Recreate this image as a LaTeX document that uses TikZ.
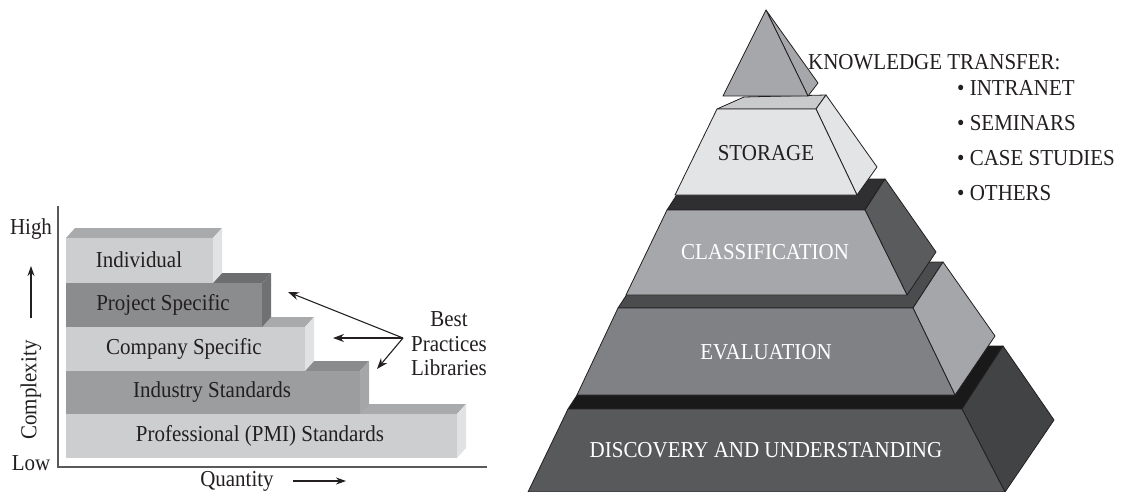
\documentclass[tikz,border=0pt]{standalone}
\usepackage{fontspec}
\setmainfont{Liberation Serif}[FakeStretch=0.92]
\usetikzlibrary{arrows.meta}
\definecolor{ink}{HTML}{231F20}
\definecolor{axisgray}{HTML}{5A5A5C}
\definecolor{lfront}{HTML}{CDCECF}
\definecolor{ltop}{HTML}{A9AAAC}
\definecolor{lside}{HTML}{E1E2E3}
\definecolor{dfront}{HTML}{8B8C8E}
\definecolor{dtop}{HTML}{6D6E70}
\definecolor{dside}{HTML}{707173}
\definecolor{mfront}{HTML}{9C9D9F}
\definecolor{mtop}{HTML}{8A8B8D}
\definecolor{mside}{HTML}{A5A6A8}
\newcommand\barblock[6]{%
  \fill[#5] (66,#2) -- (75,#2-10) -- (#1+9,#2-10) -- (#1,#2) -- cycle;
  \fill[#6] (#1,#2) -- (#1+9,#2-10) -- (#1+9,#3-10) -- (#1,#3) -- cycle;
  \fill[#4] (66,#2) rectangle (#1,#3);
}
\begin{document}
\begin{tikzpicture}[x=1pt,y=-1pt,
  lbl/.style={inner sep=0pt, font=\fontsize{22.8}{27}\selectfont, text=ink},
  wlbl/.style={inner sep=0pt, font=\fontsize{22.8}{27}\selectfont, text=white},
  face/.style={draw=ink, line width=0.8pt, line join=round},
  arr/.style={draw=ink, line width=1.1pt, -{Stealth[length=11pt,width=8pt]}},
  axisline/.style={draw=axisgray, line width=2pt}]
\useasboundingbox (0,0) rectangle (1127,492);

% ---------------- left chart ----------------
\barblock{457}{414}{458}{lfront}{ltop}{lside}
\barblock{360}{371}{414}{mfront}{mtop}{mside}
\barblock{305}{327}{371}{lfront}{ltop}{lside}
\barblock{262}{283}{327}{dfront}{dtop}{dside}
\barblock{213}{238}{283}{lfront}{ltop}{lside}

\coordinate (ytop) at (58,206);
\coordinate (orig) at (58,467);
\coordinate (xend) at (487,467);
\draw[axisline] (ytop) -- (orig) -- (xend);

\node[lbl] (indiv) at (139,260) {Individual};
\node[lbl] (proj) at (163,305) {Project Specific};
\node[lbl] (comp) at (184,349) {Company Specific};
\node[lbl] (indu) at (212,392) {Industry Standards};
\node[lbl] (prof) at (260,436) {Professional (PMI) Standards};

\node[lbl] (high) at (31,229) {High};
\node[lbl] (low) at (31,463) {Low};
\node[lbl, rotate=90] (cplx) at (31,390) {Complexity};
\coordinate (ua1) at (31,318);
\coordinate (ua2) at (31,266);
\draw[draw=ink, line width=1.1pt, -{Stealth[length=10pt,width=7pt]}] (ua1) -- (ua2);
\node[lbl, anchor=base] (qty) at (237,486) {Quantity};
\coordinate (qa1) at (293,481);
\coordinate (qa2) at (346,481);
\draw[draw=ink, line width=1.1pt, -{Stealth[length=10pt,width=7pt]}] (qa1) -- (qa2);

\node[lbl] (best) at (449,319) {Best};
\node[lbl] (prac) at (449,344) {Practices};
\node[lbl] (libr) at (449,368) {Libraries};
\coordinate (bp) at (403,338);
\coordinate (t1) at (288,292);
\coordinate (t2) at (333,338);
\coordinate (t3) at (377,369);
\draw[arr] (bp) -- (t1);
\draw[arr] (bp) -- (t2);
\draw[arr] (bp) -- (t3);

% ---------------- pyramid ----------------
% discovery
\filldraw[face, fill=black!80!gray] (568,409) -- (609,346) -- (1003,346) -- (962,409) -- cycle;
\filldraw[face, fill={rgb,255:red,66;green,67;blue,69}] (962,409) -- (1003,346) -- (1054,420) -- (1005,492) -- cycle;
\filldraw[face, fill={rgb,255:red,88;green,89;blue,91}] (568,409) -- (962,409) -- (1005,492) -- (528,492) -- cycle;
% evaluation
\filldraw[face, fill={rgb,255:red,75;green,76;blue,78}] (618,308) -- (648,262) -- (943,262) -- (913,308) -- cycle;
\filldraw[face, fill={rgb,255:red,165;green,166;blue,169}] (913,308) -- (943,262) -- (995,336) -- (955,395) -- cycle;
\filldraw[face, fill={rgb,255:red,128;green,129;blue,132}] (618,308) -- (913,308) -- (955,395) -- (577,395) -- cycle;
% classification
\filldraw[face, fill={rgb,255:red,47;green,47;blue,49}] (667,210) -- (687,179) -- (885,179) -- (865,210) -- cycle;
\filldraw[face, fill={rgb,255:red,90;green,91;blue,93}] (865,210) -- (885,179) -- (936,252) -- (907,295) -- cycle;
\filldraw[face, fill={rgb,255:red,166;green,167;blue,170}] (667,210) -- (865,210) -- (907,295) -- (626,295) -- cycle;
% storage
\filldraw[face, fill={rgb,255:red,201;green,202;blue,204}] (717,109) -- (744,97) -- (826,95) -- (816,109) -- cycle;
\filldraw[face, fill={rgb,255:red,227;green,228;blue,230}] (816,109) -- (826,95) -- (877,167) -- (857,195) -- cycle;
\filldraw[face, fill={rgb,255:red,227;green,228;blue,230}] (717,109) -- (816,109) -- (857,195) -- (675,195) -- cycle;
% tip
\filldraw[face, fill={rgb,255:red,166;green,167;blue,170}] (766,10) -- (818,83) -- (808,96) -- cycle;
\filldraw[face, fill={rgb,255:red,166;green,167;blue,170}] (766,10) -- (808,96) -- (723,96) -- cycle;

\node[lbl] (stor) at (766,153) {STORAGE};
\node[wlbl] (clas) at (765,252) {CLASSIFICATION};
\node[wlbl] (eval) at (766,352) {EVALUATION};
\node[wlbl] (disc) at (766,450) {DISCOVERY AND UNDERSTANDING};

\node[lbl, anchor=west] (kt) at (808,62) {KNOWLEDGE TRANSFER:};
\node[lbl, anchor=west] (b1) at (957,88) {• INTRANET};
\node[lbl, anchor=west] (b2) at (957,123) {• SEMINARS};
\node[lbl, anchor=west] (b3) at (957,158) {• CASE STUDIES};
\node[lbl, anchor=west] (b4) at (957,193) {• OTHERS};
\end{tikzpicture}
\end{document}
